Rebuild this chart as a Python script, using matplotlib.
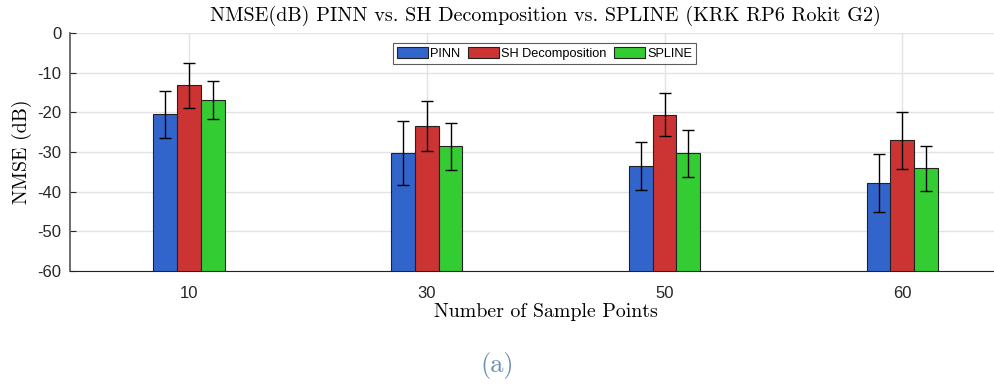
import numpy as np
import matplotlib
matplotlib.use("Agg")
import matplotlib.pyplot as plt

# data
sample_points = ["10", "30", "50", "60"]
methods = ["PINN", "SH Decomposition", "SPLINE"]
pinn_mean = [-20.5, -30.2, -33.5, -37.8]
pinn_err = [5.9, 8.1, 6.1, 7.3]
sh_mean = [-13.2, -23.4, -20.6, -27.1]
sh_err = [5.6, 6.3, 5.4, 7.3]
spline_mean = [-16.9, -28.6, -30.3, -34.1]
spline_err = [4.8, 5.9, 5.9, 5.7]

colors = ["#3265CB", "#CC3333", "#33CC33"]

plt.rcParams['axes.unicode_minus'] = False
plt.rcParams['font.family'] = ['Liberation Sans', 'DejaVu Sans']
serif = 'cmr10'

fig = plt.figure(figsize=(9.95, 3.84), dpi=100)
ax = fig.add_axes([0.0704, 0.2943, 0.956, 0.6198])

ymin = -60
x = np.arange(1, len(sample_points) + 1)
w = 0.1
means = [pinn_mean, sh_mean, spline_mean]
errs = [pinn_err, sh_err, spline_err]
for i, (m, e) in enumerate(zip(means, errs)):
    pos = x + (i - 1) * w
    m = np.array(m)
    # bars rise from the bottom of the axis up to the value
    ax.bar(pos, m - ymin, width=w, bottom=ymin, color=colors[i],
           edgecolor='#222222', linewidth=0.8, label=methods[i], zorder=3)
    ax.errorbar(pos, m, yerr=e, fmt='none', ecolor='black', elinewidth=1,
                capsize=4, capthick=1, zorder=4)

ax.set_xlim(0.5, 4.5)
ax.set_ylim(ymin, 0)
ax.set_yticks(np.arange(-60, 1, 10))
ax.set_xticks(x)
ax.set_xticklabels(sample_points)
ax.tick_params(labelsize=12, colors='#262626', direction='in', length=4)
ax.tick_params(axis='x', length=0, pad=11)
ax.tick_params(axis='y', pad=6)
ax.grid(True, color='#e3e3e3', linewidth=1, zorder=0)
ax.set_axisbelow(True)
for s in ['top', 'right']:
    ax.spines[s].set_visible(False)
ax.spines['left'].set_color('#555555')
ax.spines['left'].set_linewidth(1.2)
ax.spines['bottom'].set_color('#222222')

ax.set_title('NMSE(dB) PINN vs. SH Decomposition vs. SPLINE (KRK RP6 Rokit G2)',
             fontfamily=serif, fontsize=14.5, pad=9)
ax.set_xlabel('Number of Sample Points', fontfamily=serif, fontsize=14.3, labelpad=1)
ax.set_ylabel('NMSE (dB)', fontfamily=serif, fontsize=14.3, labelpad=4)

leg = ax.legend(ncol=3, loc='upper left',
                bbox_to_anchor=(0.3396, 0.958), fontsize=9.2, frameon=True,
                fancybox=False, edgecolor='#333333', handlelength=2.4,
                handleheight=1.0, handletextpad=0.2, columnspacing=0.6,
                borderpad=0.3, borderaxespad=0)
leg.get_frame().set_linewidth(0.8)

fig.text(0.5, 0.047, '(a)', fontfamily=serif, fontsize=19, color='#6B8FB3',
         ha='center', va='center')

fig.savefig('out.png', dpi=100)
